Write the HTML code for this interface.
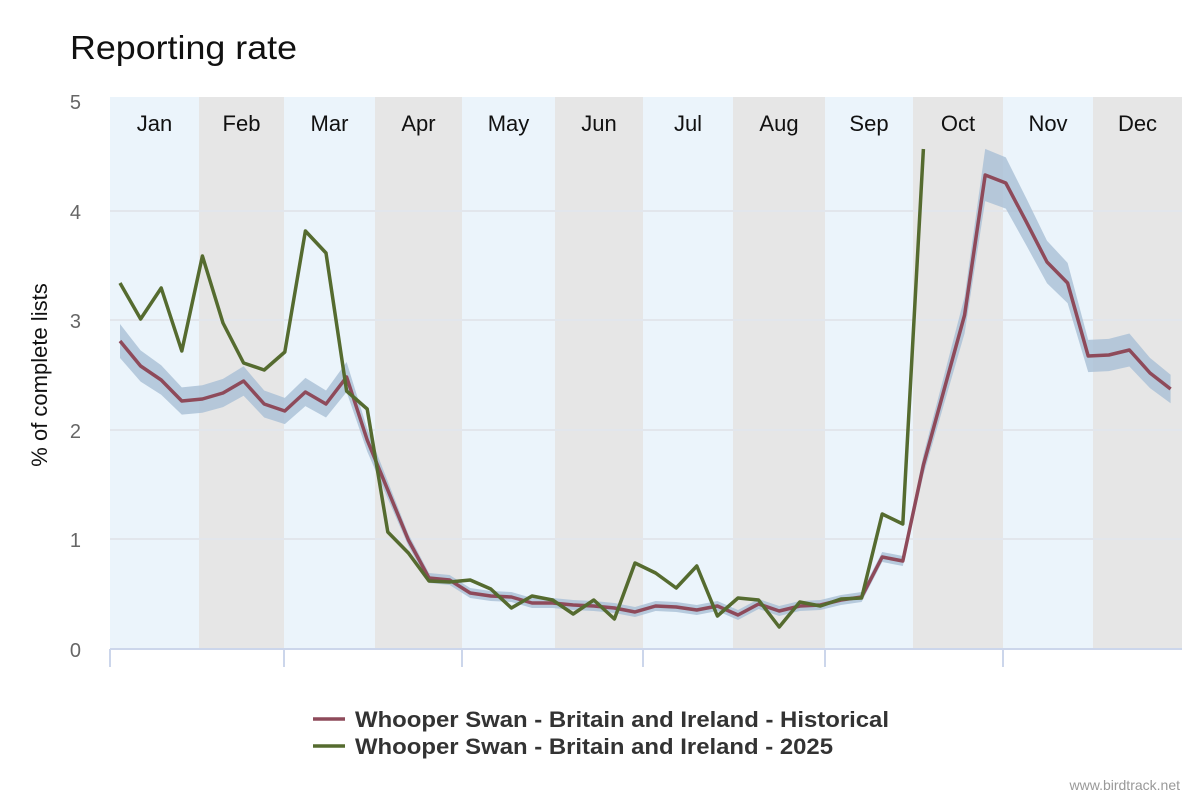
<!DOCTYPE html>
<html><head><meta charset="utf-8"><style>
html,body{margin:0;padding:0;background:#fff;width:1200px;height:800px;overflow:hidden}
svg{display:block;font-family:"Liberation Sans",Arial,sans-serif}
</style></head><body>
<svg id="s" width="1200" height="800" xmlns="http://www.w3.org/2000/svg">
<text x="70" y="59" font-size="33" fill="#111" textLength="227" lengthAdjust="spacingAndGlyphs">Reporting rate</text>
<g id="bands"></g>
<g stroke="#e2e6ec" stroke-width="2">
<line x1="110" x2="1182" y1="539" y2="539"/><line x1="110" x2="1182" y1="430" y2="430"/>
<line x1="110" x2="1182" y1="320" y2="320"/><line x1="110" x2="1182" y1="211" y2="211"/>
</g>
<g font-size="20" fill="#666" text-anchor="end">
<text x="81" y="657">0</text><text x="81" y="547">1</text><text x="81" y="438">2</text>
<text x="81" y="328">3</text><text x="81" y="219">4</text><text x="81" y="109">5</text>
</g>
<text transform="translate(47,375) rotate(-90)" font-size="22" fill="#111" text-anchor="middle">% of complete lists</text>
<g id="months" font-size="22" fill="#111" text-anchor="middle"></g>
<path id="band" fill="#a9bfd6" opacity="0.8"/>
<polyline id="hist" fill="none" stroke="#8e4a5a" stroke-width="3.5" stroke-linejoin="round"/>
<polyline id="cur" fill="none" stroke="#556b2f" stroke-width="3.5" stroke-linejoin="round"/>
<line x1="110" x2="1182" y1="649" y2="649" stroke="#ccd6eb" stroke-width="2"/>
<g id="ticks" stroke="#ccd6eb" stroke-width="2"></g>
<line x1="313" x2="345" y1="719" y2="719" stroke="#8e4a5a" stroke-width="3.5"/>
<text x="355" y="727" font-size="22" font-weight="bold" fill="#333" textLength="534" lengthAdjust="spacingAndGlyphs">Whooper Swan - Britain and Ireland - Historical</text>
<line x1="313" x2="345" y1="746" y2="746" stroke="#556b2f" stroke-width="3.5"/>
<text x="355" y="754" font-size="22" font-weight="bold" fill="#333" textLength="478" lengthAdjust="spacingAndGlyphs">Whooper Swan - Britain and Ireland - 2025</text>
<text x="1180" y="790" font-size="14" fill="#999" text-anchor="end">www.birdtrack.net</text>
</svg>
<script>
var NS="http://www.w3.org/2000/svg";
function el(t,a,p){var e=document.createElementNS(NS,t);for(var k in a)e.setAttribute(k,a[k]);document.getElementById(p).appendChild(e);return e;}
var b=[110,199,284,375,462,555,643,733,825,913,1003,1093,1182];
var m=["Jan","Feb","Mar","Apr","May","Jun","Jul","Aug","Sep","Oct","Nov","Dec"];
for(var i=0;i<12;i++){
 el("rect",{x:b[i],y:97,width:b[i+1]-b[i],height:552,fill:i%2?"#e6e6e6":"#ebf4fb"},"bands");
 var t=el("text",{x:(b[i]+b[i+1])/2,y:131},"months");t.textContent=m[i];
}
[110,284,462,643,825,1003].forEach(function(x){el("line",{x1:x,x2:x,y1:649,y2:667},"ticks");});
var h=[341,366,380,401,399,393,381,404,411,392,404,377,440,490,540,578,580,593,596,597,603,603,605,606,608,612,606,607,610,606,615,604,611,606,605,600,597,557,561,465,390,315,175,183,222,262,283,356,355,350,373,389];
var c=[283,319,288,351,256,323,363,370,352,231,253,391,409,532,553,581,582,580,589,608,596,600,614,600,619,563,573,588,566,616,598,600,627,602,606,599,598,514,524,149];
function X(i){return 120+i*20.6;}
document.getElementById("hist").setAttribute("points",h.map(function(y,i){return X(i)+","+y}).join(" "));
document.getElementById("cur").setAttribute("points",c.map(function(y,i){return X(i)+","+y}).join(" "));
var up=[],dn=[];
h.forEach(function(y,i){var w=Math.max(5,(649-y)*0.055);up.push(X(i)+","+(y-w));dn.unshift(X(i)+","+(y+w));});
document.getElementById("band").setAttribute("d","M"+up.join(" L")+" L"+dn.join(" L")+"Z");
</script>
</body></html>
